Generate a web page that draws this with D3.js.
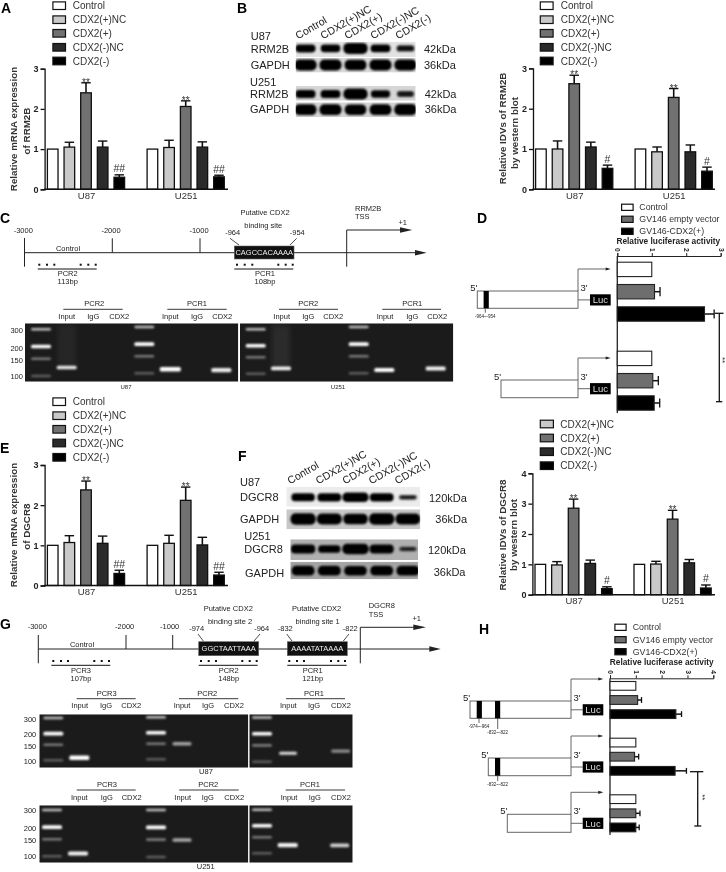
<!DOCTYPE html>
<html><head><meta charset="utf-8">
<script src="https://cdn.jsdelivr.net/npm/d3@7"></script>
<style>
html,body{margin:0;padding:0;background:#fff;overflow:hidden}
svg{display:block;filter:blur(0.3px)}
text{font-family:"Liberation Sans",Arial,sans-serif;fill:#222}
</style></head><body>
<svg id="fig" width="726" height="872" viewBox="0 0 726 872"></svg>
<script>
// ---------- data ----------
const conditions = ["Control","CDX2(+)NC","CDX2(+)","CDX2(-)NC","CDX2(-)"];
const conditionColors = ["#ffffff","#c9c9c9","#717171","#2b2b2b","#000000"];
const cellLines = ["U87","U251"];
const reporterSeries = ["Control","GV146 empty vector","GV146-CDX2(+)"];
const reporterColors = ["#ffffff","#6e6e6e","#000000"];

const aValues = [[1,1.05,2.40,1.05,0.30],[1,1.04,2.06,1.05,0.31]];
const aErrors = [[0,0.12,0.25,0.15,0.06],[0,0.18,0.14,0.13,0.04]];
const aMarks  = [[null,null,"**",null,"##"],[null,null,"**",null,"##"]];
const bValues = [[1,1.00,2.62,1.05,0.52],[1,0.93,2.28,0.93,0.45]];
const bErrors = [[0,0.20,0.21,0.12,0.08],[0,0.12,0.22,0.17,0.10]];
const bMarks  = [[null,null,"**",null,"#"],[null,null,"**",null,"#"]];
const eValues = [[1,1.07,2.38,1.05,0.30],[1,1.05,2.12,1.01,0.26]];
const eErrors = [[0,0.17,0.22,0.18,0.08],[0,0.20,0.33,0.19,0.07]];
const eMarks  = [[null,null,"**",null,"##"],[null,null,"**",null,"##"]];
const fValues = [[1,0.98,2.85,1.03,0.20],[1,1.01,2.49,1.05,0.22]];
const fErrors = [[0,0.11,0.30,0.11,0.06],[0,0.09,0.29,0.11,0.10]];
const fMarks  = [[null,null,"**",null,"#"],[null,null,"**",null,"#"]];

const dValues = [[1,1.08,2.53],[1,1.03,1.07]];
const dErrors = [[0,0.16,0.28],[0,0.16,0.16]];
const hValues = [[1,1.07,2.55],[1,0.95,2.52],[1,1.00,1.00]];
const hErrors = [[0,0.15,0.22],[0,0.16,0.44],[0,0.16,0.13]];

const ladderSizes = [300,200,150,100];
const ladderGlow  = [0.72,1,0.42,0.30];

// western blot band strengths by condition
const bRRM2BU87  = [0.62,0.58,1,0.60,0.42];
const bGAPDHU87  = [0.92,0.90,0.88,0.90,0.92];
const bRRM2BU251 = [0.62,0.60,1,0.55,0.36];
const bGAPDHU251 = [0.90,0.90,0.85,0.88,0.94];
const fDGCR8U87  = [0.75,0.78,0.98,0.78,0.30];
const fGAPDHU87  = [0.95,0.92,0.88,0.95,0.90];
const fDGCR8U251 = [0.82,0.65,1,0.80,0.24];
const fGAPDHU251 = [0.78,0.78,0.76,0.78,0.78];

// ---------- helpers ----------
const svg = d3.select("#fig");
const defs = svg.append("defs");
[["blurBlot",1.1],["blurGel",1.0],["blurSmear",2.5]].forEach(([id,s])=>{
  defs.append("filter").attr("id",id).attr("x","-30%").attr("y","-60%").attr("width","160%").attr("height","220%")
    .append("feGaussianBlur").attr("stdDeviation",s);
});
let clipN = 0;
function label(x,y,t,size=7.5,anchor="start",weight="normal",fill){
  const el = svg.append("text").attr("x",x).attr("y",y).attr("font-size",size).attr("text-anchor",anchor).attr("font-weight",weight).text(t);
  if(fill) el.style("fill",fill);
  return el;
}
function seg(x1,y1,x2,y2,w=1,c="#222"){
  svg.append("line").attr("x1",x1).attr("y1",y1).attr("x2",x2).attr("y2",y2).attr("stroke",c).attr("stroke-width",w);
}
function head(xStart,xTip,y,h=3,c="#222"){
  svg.append("path").attr("d",d3.line()([[xStart,y-h],[xTip,y],[xStart,y+h]])+"Z").attr("fill",c);
}
function rotLabel(x,y,t,size,angle){
  return svg.append("text").attr("transform",`translate(${x},${y}) rotate(${angle})`).attr("font-size",size).text(t);
}
function legend(names,colors,x,ys,swW,swH,tx,size){
  const g = svg.append("g");
  names.forEach((n,i)=>{
    g.append("rect").attr("x",x+.6).attr("y",ys[i]-swH/2).attr("width",swW-1.2).attr("height",swH)
      .attr("fill",colors[i]).attr("stroke","#111").attr("stroke-width",1.2);
    g.append("text").attr("x",tx).attr("y",ys[i]+size*.36).attr("font-size",size).style("fill","#333").text(n);
  });
}
function barChart(o){
  const y = d3.scaleLinear().domain([0,o.max]).range([o.y0,o.yTop]);
  const gx = d3.scalePoint().domain(cellLines).range(o.centers);
  const ix = d3.scaleBand().domain(conditions).range([-o.half,o.half]).paddingInner(0.29).paddingOuter(0);
  const g = svg.append("g");
  const axisY = d3.axisLeft(y).tickValues(d3.range(0,o.max+1)).tickSize(4).tickFormat(d3.format("d"));
  const ay = g.append("g").attr("transform",`translate(${o.axisX},0)`).call(axisY);
  ay.selectAll("path,line").attr("stroke","#111").attr("stroke-width",1.3);
  ay.selectAll("text").attr("font-size",9).attr("font-weight","bold").attr("dx",1);
  cellLines.forEach((c,gi)=>{
    const grp = g.append("g").attr("transform",`translate(${gx(c)},0)`);
    conditions.forEach((k,i)=>{
      const v=o.values[gi][i], e=o.errors[gi][i], m=o.marks[gi][i];
      const bx=ix(k), bw=ix.bandwidth(), cx=bx+bw/2;
      if(e>0){
        grp.append("line").attr("x1",cx).attr("x2",cx).attr("y1",y(v)).attr("y2",y(v+e)).attr("stroke","#111").attr("stroke-width",1.6);
        grp.append("line").attr("x1",cx-bw*.4).attr("x2",cx+bw*.4).attr("y1",y(v+e)).attr("y2",y(v+e)).attr("stroke","#111").attr("stroke-width",1.4);
      }
      grp.append("rect").attr("x",bx+.6).attr("width",bw-1.2).attr("y",y(v)).attr("height",y(0)-y(v))
        .attr("fill",conditionColors[i]).attr("stroke","#111").attr("stroke-width",1.3);
      if(m){
        const star=m==="**";
        grp.append("text").attr("x",cx).attr("y",y(v+e)+(star?3:-2.5)).attr("text-anchor","middle")
          .attr("font-size",star?10:10.5).style("fill","#333").text(m);
      }
    });
  });
  const xAxis = d3.axisBottom(gx).tickSize(0).tickPadding(3);
  const ax = g.append("g").attr("transform",`translate(0,${o.y0})`).call(xAxis);
  ax.select("path").remove();
  ax.selectAll("text").attr("font-size",9.5).style("fill","#333");
  g.append("line").attr("x1",o.axisX-.6).attr("x2",o.axisEnd).attr("y1",o.y0).attr("y2",o.y0).attr("stroke","#111").attr("stroke-width",1.4);
  o.title.forEach(t=>{
    svg.append("text").attr("transform",`translate(${t[0]},${t[1]}) rotate(-90)`).attr("text-anchor","middle")
      .attr("font-size",9.8).attr("font-weight","bold").style("fill","#333").text(t[2]);
  });
}
function blot(o){
  const x = d3.scaleBand().domain(conditions).range(o.xr).padding(0);
  const id = "clip"+(clipN++);
  defs.append("clipPath").attr("id",id).append("rect").attr("x",o.x).attr("y",o.y).attr("width",o.w).attr("height",o.h);
  const g = svg.append("g").attr("clip-path",`url(#${id})`);
  g.append("rect").attr("x",o.x).attr("y",o.y).attr("width",o.w).attr("height",o.h).attr("fill",o.bg);
  const bands = g.append("g").attr("filter","url(#blurBlot)");
  conditions.forEach((c,i)=>{
    const s=o.values[i];
    const w=o.bw*(0.6+0.5*s), h=o.bh*(0.35+0.95*s);
    bands.append("rect").attr("x",x(c)+x.bandwidth()/2-w/2).attr("width",w).attr("y",o.cy-h/2).attr("height",h).attr("rx",h*.45)
      .attr("fill","#000").attr("opacity",Math.min(1,0.45+0.95*s));
    bands.append("rect").attr("x",x(c)+x.bandwidth()/2-w/2+2).attr("width",w-4).attr("y",o.cy-h*.3).attr("height",h*.6).attr("rx",h*.3)
      .attr("fill","#000").attr("opacity",Math.min(1,0.3+0.9*s));
  });
}
function gelLane(g,cx,w,yy,glow,thick=3){
  g.append("rect").attr("x",cx-w/2).attr("width",w).attr("y",yy-thick/2).attr("height",thick).attr("rx",1.5)
    .attr("fill","#fff").attr("opacity",glow);
}
function gel(o){
  const id = "clip"+(clipN++);
  defs.append("clipPath").attr("id",id).append("rect").attr("x",o.x).attr("y",o.y).attr("width",o.w).attr("height",o.h);
  const root = svg.append("g").attr("clip-path",`url(#${id})`);
  root.append("rect").attr("x",o.x).attr("y",o.y).attr("width",o.w).attr("height",o.h).attr("fill","#1b1b1b");
  const g = root.append("g").attr("filter","url(#blurGel)");
  const scales = o.ladders.map(l=>d3.scaleLog().domain([300,100]).range([l.y300,l.y100]));
  o.ladders.forEach((l,li)=>{
    ladderSizes.forEach((s,i)=>gelLane(g,l.cx,20,scales[li](s),ladderGlow[i],i===1?3.6:2.6));
  });
  o.samples.forEach(s=>{
    const yy=scales[s.ladder](s.bp);
    if(s.smear) root.append("rect").attr("x",s.cx-9).attr("width",18).attr("y",o.y+2).attr("height",yy-o.y-4)
      .attr("fill","#fff").attr("opacity",s.smear).attr("filter","url(#blurSmear)");
    gelLane(g,s.cx,s.w||20,yy,s.glow,s.t||3.6);
  });
}
function gelHeaders(names,centers,lineY,baseY,spans,labY,laneNames,laneCx){
  names.forEach((n,i)=>{
    label(centers[i],baseY,n,7.5,"middle");
    seg(spans[i][0],lineY,spans[i][1],lineY,0.9,"#222");
  });
  laneCx.forEach((cx,i)=>label(cx,labY,laneNames[i%3],7.5,"middle"));
}
const lanes = ["Input","IgG","CDX2"];
function sizeLabels(cx,ys){
  ladderSizes.forEach((s,i)=>label(cx,ys[i]+2.6,String(s),7.5,"middle"));
}
function hChart(o){
  const x = d3.scaleLinear().domain([0,o.max]).range([o.x0,o.x1]);
  const axis = d3.axisTop(x).tickValues(d3.range(0,o.max+1)).tickSize(3).tickPadding(1).tickFormat(d3.format("d"));
  const a = svg.append("g").attr("transform",`translate(0,${o.axisY})`).call(axis);
  a.selectAll("path,line").attr("stroke","#222").attr("stroke-width",1);
  a.selectAll("text").attr("font-size",6.8).attr("font-weight","bold").attr("text-anchor","middle")
    .attr("dy",0).attr("x",0).attr("y",2.4).attr("transform","translate(0,-6.2) rotate(90)");
  seg(o.x0,o.axisY,o.x0,o.bottom,1.3,"#222");
  o.groupY.forEach((gy,gi)=>{
    const band = d3.scaleBand().domain(reporterSeries).range([gy,gy+o.groupH]).paddingInner(o.pad);
    reporterSeries.forEach((s,i)=>{
      const v=o.values[gi][i], e=o.errors[gi][i];
      const by=band(s), bh=band.bandwidth(), cy=by+bh/2;
      if(e>0){
        seg(x(v),cy,x(v+e),cy,1.5,"#111");
        seg(x(v+e),cy-bh*.3,x(v+e),cy+bh*.3,1.3,"#111");
      }
      svg.append("rect").attr("x",x(0)).attr("width",x(v)-x(0)).attr("y",by+.5).attr("height",bh-1)
        .attr("fill",reporterColors[i]).attr("stroke","#222").attr("stroke-width",1.1);
    });
  });
}
function construct(o){
  const c="#666";
  svg.append("rect").attr("x",o.x).attr("y",o.y).attr("width",o.right-o.x).attr("height",o.h).attr("fill","#fff").attr("stroke",c).attr("stroke-width",1);
  (o.sites||[]).forEach(s=>svg.append("rect").attr("x",s).attr("y",o.y).attr("width",5.2).attr("height",o.h).attr("fill","#000"));
  seg(o.right,o.y,o.right,o.arrowY,1,c); seg(o.right,o.arrowY,o.tip-3,o.arrowY,1,c);
  head(o.tip-5,o.tip,o.arrowY,1.6,"#222");
  seg(o.right,o.lucY,o.lucX,o.lucY,1,c);
  svg.append("rect").attr("x",o.lucX).attr("y",o.lucY-5.6).attr("width",o.tip-o.lucX).attr("height",11.2).attr("fill","#000");
  label((o.lucX+o.tip)/2,o.lucY+3.3,"Luc",9.5,"middle","normal","#ddd");
  label(o.x-7,o.y-.5,"5'",9.5); label(o.right+2.5,o.y-.5,"3'",9.5);
}
function dots(xs,y){
  svg.append("g").selectAll("rect").data(xs).join("rect").attr("x",d=>d-1).attr("y",y-1).attr("width",2).attr("height",2).attr("fill","#111");
}
function pcrAmp(xs,y,lineY,x1,x2,cx,name,bp,base1,base2){
  dots(xs,y); seg(x1,lineY,x2,lineY,1,"#111");
  label(cx,base1,name,7.5,"middle"); label(cx,base2,bp,7.5,"middle");
}
function siteBox(x1,x2,y1,y2,seq){
  svg.append("rect").attr("x",x1).attr("y",y1).attr("width",x2-x1).attr("height",y2-y1).attr("fill","#111").attr("stroke","#666").attr("stroke-width",.6);
  label((x1+x2)/2,(y1+y2)/2+2.7,seq,7.5,"middle","normal","#eee");
}

// ---------- panel letters ----------
[["A",1,12.8],["B",237,12.8],["C",0,223],["D",477,223],["E",0,453],["F",238,461],["G",0,629],["H",479,634]]
  .forEach(d=>label(d[1],d[2],d[0],14,"start","bold","#000"));

// ---------- A ----------
legend(conditions,conditionColors,52.3,[5.7,19.7,33.3,47.3,61],13.8,7.6,72.7,10);
barChart({values:aValues,errors:aErrors,marks:aMarks,max:3,y0:189.3,yTop:68.7,axisX:44.6,axisEnd:228,centers:[86,185.7],half:39.2,
  title:[[16.7,129,"Relative mRNA expression"],[30,131,"of RRM2B"]]});

// ---------- B ----------
legend(conditions,conditionColors,539.7,[5.7,19.7,33.3,47.3,61],14,7.6,560.7,10);
barChart({values:bValues,errors:bErrors,marks:bMarks,max:3,y0:189.3,yTop:68.4,axisX:533,axisEnd:715,centers:[574.2,673.7],half:39.2,
  title:[[505.7,128.4,"Relative IDVs of RRM2B"],[518,133,"by western blot"]]});
const bBox={x:295.7,w:120,xr:[293,418]};
blot({...bBox,y:41.7,h:15.2,bg:"#e2e2e2",cy:48.4,values:bRRM2BU87,bw:22,bh:8.5});
blot({...bBox,y:58,h:14.6,bg:"#d8d8d8",cy:65,values:bGAPDHU87,bw:21,bh:9});
blot({...bBox,y:86,h:14.8,bg:"#d6d6d6",cy:94,values:bRRM2BU251,bw:22,bh:8.5});
blot({...bBox,y:102.3,h:15,bg:"#d4d4d4",cy:109.7,values:bGAPDHU251,bw:21,bh:9});
[["U87",250.7,40],["RRM2B",250.7,53.3],["GAPDH",250.7,69.3],["U251",250,86],["RRM2B",250,97.7],["GAPDH",250,113.3],
 ["42kDa",424,53.3],["36kDa",424,69.3],["42kDa",424.7,98],["36kDa",424.7,113.3]]
 .forEach(d=>label(d[1],d[2],d[0],11));
conditions.forEach((c,i)=>rotLabel([298,323,347,373,398][i],39.5,c,10.6,-30));

// ---------- C ----------
seg(24.5,252.7,418,252.7,1,"#222"); head(415,426.7,252.7,2.8);
seg(24.5,238,24.5,266.7,1); seg(112.3,238.3,112.3,252.7,1); seg(200,238.3,200,252.7,1);
[["-3000",23.3],["-2000",111],["-1000",199]].forEach(d=>label(d[1],233,d[0],7.5,"middle"));
label(265,215,"Putative CDX2",7.5,"middle"); label(263.3,227.7,"binding site",7.5,"middle");
label(232.7,235,"-964",7.5,"middle"); label(297.3,235,"-954",7.5,"middle");
seg(230,238.3,239,245,.8); seg(296.7,238.3,290,245,.8);
siteBox(234.3,294,246,259,"CAGCCACAAAA");
label(68,250.7,"Control",7.5,"middle");
pcrAmp([39.3,47,54.3,80.7,88.3,95.7],264.7,269,37.7,96.7,67.7,"PCR2","113bp",276.3,284);
pcrAmp([237,244.7,252.3,278.3,285.7,292.7],264.7,269,234.3,293.3,265,"PCR1","108bp",276.3,284);
seg(346.7,230,346.7,266.7,1); seg(346.7,230,402,230,1); head(400,412.3,230,2.8);
label(355,210.7,"RRM2B",7.5); label(355,219.3,"TSS",7.5); label(402.7,225,"+1",7.5,"middle");
gelHeaders(["PCR2","PCR1","PCR2","PCR1"],[94.3,197,308.3,412.3],309.3,306,[[63.3,122.7],[167.3,226.7],[279,338],[382.3,441]],319,lanes,
  [66.7,93.3,119.3,170.3,197,222.3,281.7,308.3,333.3,385,412.3,437.3]);
gel({x:25,y:323.3,w:213.3,h:58.4,
  ladders:[{cx:41,y300:329.3,y100:376},{cx:144.3,y300:327,y100:373.3}],
  samples:[{cx:66.7,ladder:0,bp:122,glow:.9,smear:.05},{cx:170.3,ladder:1,bp:110,glow:1,t:4.6,w:21},{cx:221.3,ladder:1,bp:108,glow:.92,t:4.2}]});
gel({x:240,y:323.3,w:213.3,h:58.4,
  ladders:[{cx:255.7,y300:329.3,y100:373.7},{cx:358.7,y300:327,y100:373.3}],
  samples:[{cx:281,ladder:0,bp:114,glow:.95,smear:.07},{cx:384.3,ladder:1,bp:108,glow:1,t:4},{cx:435.7,ladder:1,bp:112,glow:.95,t:4}]});
sizeLabels(16.7,[330,348.3,360,376]);
label(126,389,"U87",6,"middle"); label(338,389,"U251",6,"middle");

// ---------- D ----------
legend(reporterSeries,reporterColors,621,[207.3,219.3,231.3],12.7,6.2,639.3,8.8);
label(668.3,244.3,"Relative luciferase activity",8.3,"middle","bold");
hChart({max:3,x0:617.3,x1:720.7,axisY:256,bottom:413,groupY:[261.7,350.7],groupH:60,pad:.31,values:dValues,errors:dErrors});
seg(719.3,313.3,719.3,401.7,1.3,"#111"); seg(715,313.3,723.5,313.3,1.3,"#111"); seg(716,401.7,722.3,401.7,1.3,"#111");
svg.append("text").attr("transform","translate(720,360) rotate(90)").attr("text-anchor","middle").attr("font-size",8).text("**");
construct({x:477.3,right:578,y:291,h:17.3,arrowY:269,tip:610.7,lucX:590,lucY:299.9,sites:[483.6]});
seg(485.3,309,485.3,312.7,.7); label(485.3,318.3,"-964~-954",4.5,"middle");
construct({x:501,right:578,y:380,h:17.7,arrowY:358,tip:610.7,lucX:590,lucY:388.7});

// ---------- E ----------
legend(conditions,conditionColors,52.3,[401.7,415.7,429.3,443,457.3],13.8,7.6,72.7,10);
barChart({values:eValues,errors:eErrors,marks:eMarks,max:3,y0:585.5,yTop:465,axisX:44.6,axisEnd:228,centers:[86,185.7],half:39.2,
  title:[[16.7,525,"Relative mRNA expression"],[30,526.7,"of DGCR8"]]});

// ---------- F ----------
legend(conditions.slice(1),conditionColors.slice(1),539.7,[424,438,451.7,465.7],14.3,7.6,560.3,10);
barChart({values:fValues,errors:fErrors,marks:fMarks,max:4,y0:594.7,yTop:473.3,axisX:532.4,axisEnd:715,centers:[573.6,672.6],half:39.2,
  title:[[505.7,535,"Relative IDVs of DGCR8"],[517.3,535,"by western blot"]]});
blot({x:286.3,w:134,xr:[290,421],y:486.7,h:20,bg:"#ececec",cy:497.3,values:fDGCR8U87,bw:24,bh:7.5});
blot({x:286.3,w:134,xr:[290,421],y:509.3,h:20,bg:"#c8c8c8",cy:519,values:fGAPDHU87,bw:23.5,bh:9});
blot({x:290.3,w:127.7,xr:[290,421],y:539.3,h:20.7,bg:"#b0b0b0",cy:549,values:fDGCR8U251,bw:24,bh:8});
blot({x:290.3,w:127.7,xr:[290,421],y:561.7,h:17.6,bg:"#a4a4a4",cy:570.7,values:fGAPDHU251,bw:23,bh:9});
[["U87",240,486],["DGCR8",240,501.3],["GAPDH",240,523.3],["U251",244.3,540],["DGCR8",244.3,553.3],["GAPDH",245,576.7],
 ["120kDa",429,501.7],["36kDa",435.3,523.3],["120kDa",428,554],["36kDa",433.7,576]]
 .forEach(d=>label(d[1],d[2],d[0],11));
conditions.forEach((c,i)=>rotLabel([290,318.3,345,371.3,397.3][i],484.5,c,10.6,-30));

// ---------- G ----------
seg(38.3,649,432,649,1,"#222"); head(429.3,440.7,649,2.8);
seg(38.3,635,38.3,663.3,1); seg(126,635,126,649,1); seg(172.7,635,172.7,649,1);
[["-3000",37.3],["-2000",124.7],["-1000",169.7]].forEach(d=>label(d[1],629.3,d[0],7.5,"middle"));
label(228.3,611.3,"Putative CDX2",7.5,"middle"); label(230,624.3,"binding site 2",7.5,"middle");
label(316.7,611.3,"Putative CDX2",7.5,"middle"); label(317.7,624.3,"binding site 1",7.5,"middle");
[["-974",196.7],["-964",261.7],["-832",285.3],["-822",350.3]].forEach(d=>label(d[1],631.3,d[0],7.5,"middle"));
seg(198,634,203.3,641,.8); seg(260,634,254,641,.8); seg(286.7,634,292,641,.8); seg(349,634,343.3,641,.8);
siteBox(198.7,258.7,641.7,655.7,"GGCTAATTAAA"); siteBox(287.3,347.3,641.7,655.7,"AAAATATAAAA");
label(82,646.7,"Control",7.5,"middle");
pcrAmp([53.3,61,68,94.3,101.7,109],661,665.3,51.3,110.3,81,"PCR3","107bp",673,680.7);
pcrAmp([201,208.7,216,242.3,249.7,256.7],661,665.3,198.7,257.7,228.7,"PCR2","148bp",673,680.7);
pcrAmp([289.3,297,304,331,338.3,345],661,665.3,287.3,346.7,312.7,"PCR1","121bp",673,680.7);
seg(360.3,627.3,360.3,663.3,1); seg(360.3,627.3,416,627.3,1); head(413.3,426,627.3,2.8);
label(368.7,607.7,"DGCR8",7.5); label(368.7,616.7,"TSS",7.5); label(416.7,620.7,"+1",7.5,"middle");
gelHeaders(["PCR3","PCR2","PCR1"],[106.7,207.3,314],698.7,696,[[76.7,135.7],[179,238.3],[286,345]],708.3,lanes,
  [79.7,106,131.3,182,208,234,288.3,314,341]);
gel({x:39.3,y:714.3,w:209,h:53.4,
  ladders:[{cx:53.3,y300:718,y100:760.3},{cx:156,y300:717.3,y100:759.3}],
  samples:[{cx:79.3,ladder:0,bp:107,glow:1,t:4.4},{cx:182,ladder:1,bp:150,glow:.6,t:3.4,w:19}]});
gel({x:249.3,y:714.3,w:103.4,h:53.4,
  ladders:[{cx:262,y300:717.5,y100:761.7}],
  samples:[{cx:288,ladder:0,bp:123,glow:.85,t:3,w:18},{cx:340.7,ladder:0,bp:130,glow:.5,t:3.2,w:19}]});
sizeLabels(30,[719,734.3,746,761.7]);
label(206,774.3,"U87",7.5,"middle");
gelHeaders(["PCR3","PCR2","PCR1"],[107,208.3,310],790,786.7,[[76.7,135.7],[179.3,238.7],[285.7,345]],799.7,lanes,
  [79.3,106.7,131.7,182.7,207.7,234.3,289,314.7,341]);
gel({x:39.3,y:805.3,w:209,h:57.4,
  ladders:[{cx:52,y300:810,y100:856.3},{cx:156,y300:810,y100:857}],
  samples:[{cx:78,ladder:0,bp:107,glow:.95,t:4},{cx:182,ladder:1,bp:149,glow:.62,t:3.4,w:19}]});
gel({x:249.3,y:805.3,w:103.4,h:57.4,
  ladders:[{cx:262,y300:809.7,y100:853.3}],
  samples:[{cx:287.7,ladder:0,bp:123,glow:.95,t:4.2},{cx:339.7,ladder:0,bp:122,glow:.8,t:3.8,w:19}]});
sizeLabels(30,[810.7,828.3,840.7,856.7]);
label(205.7,869,"U251",7.5,"middle");

// ---------- H ----------
legend(reporterSeries,reporterColors,614.3,[627.3,639.7,651.7],12.4,6.2,632.7,8.8);
label(661.7,665.3,"Relative luciferase activity",8.3,"middle","bold");
hChart({max:4,x0:610,x1:713.3,axisY:678.3,bottom:835,groupY:[681,737.7,794.3],groupH:38,pad:.31,values:hValues,errors:hErrors});
seg(697.7,771.7,697.7,826,1.3,"#111"); seg(690,771.7,703.3,771.7,1.3,"#111"); seg(694.3,826,701.3,826,1.3,"#111");
svg.append("text").attr("transform","translate(699.5,797.3) rotate(90)").attr("text-anchor","middle").attr("font-size",8).text("**");
construct({x:470,right:571,y:701,h:17.3,arrowY:679,tip:603.3,lucX:582.7,lucY:709.8,sites:[476.7,495]});
seg(479,718.3,479,723,.7); seg(497.7,718.3,497.7,729,.7);
label(479,728.3,"-974~-964",4.5,"middle"); label(497.7,734.3,"-832~-822",4.5,"middle");
construct({x:488.3,right:571,y:758,h:17.7,arrowY:736,tip:603.3,lucX:582.7,lucY:767,sites:[495]});
seg(497.7,775.7,497.7,781,.7); label(497.7,786.3,"-832~-822",4.5,"middle");
construct({x:507.3,right:571,y:814.3,h:18,arrowY:792.3,tip:603.3,lucX:582.7,lucY:823.3});
</script>
</body></html>
